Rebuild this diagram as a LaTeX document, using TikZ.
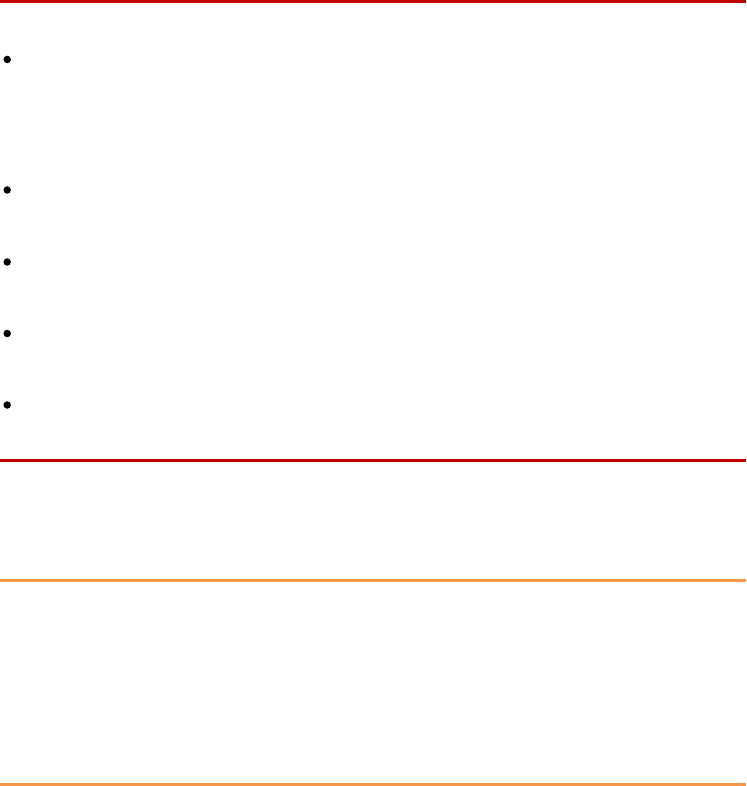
\documentclass[tikz,border=0pt]{standalone}
\usepackage{tikz}
\definecolor{rulered}{HTML}{C00000}
\definecolor{ruleorange}{HTML}{F79646}

\begin{document}
\begin{tikzpicture}[x=1pt, y=-1pt,
    bulletdot/.style={circle, fill=black, inner sep=0pt, minimum size=7.5pt},
    redrule/.style={rulered, line width=3pt},
    orangerule/.style={ruleorange, line width=3pt}]
    \def\hrule#1#2{
        \coordinate (#2w) at (0,#1);
        \coordinate (#2e) at (746,#1);
    }
    \useasboundingbox (0,0) rectangle (746,786);

    % Rules
    \hrule{1.5}{top}
    \hrule{460.5}{mid}
    \hrule{580.5}{low}
    \hrule{784.5}{bot}
    \draw[redrule] (topw) -- (tope);
    \draw[redrule] (midw) -- (mide);
    \draw[orangerule] (loww) -- (lowe);
    \draw[orangerule] (botw) -- (bote);

    % Bullets
    \foreach \y [count=\i] in {59.5, 190, 262, 333.5, 405}
        \node[bulletdot] (b\i) at (7.2,\y) {};
\end{tikzpicture}
\end{document}
